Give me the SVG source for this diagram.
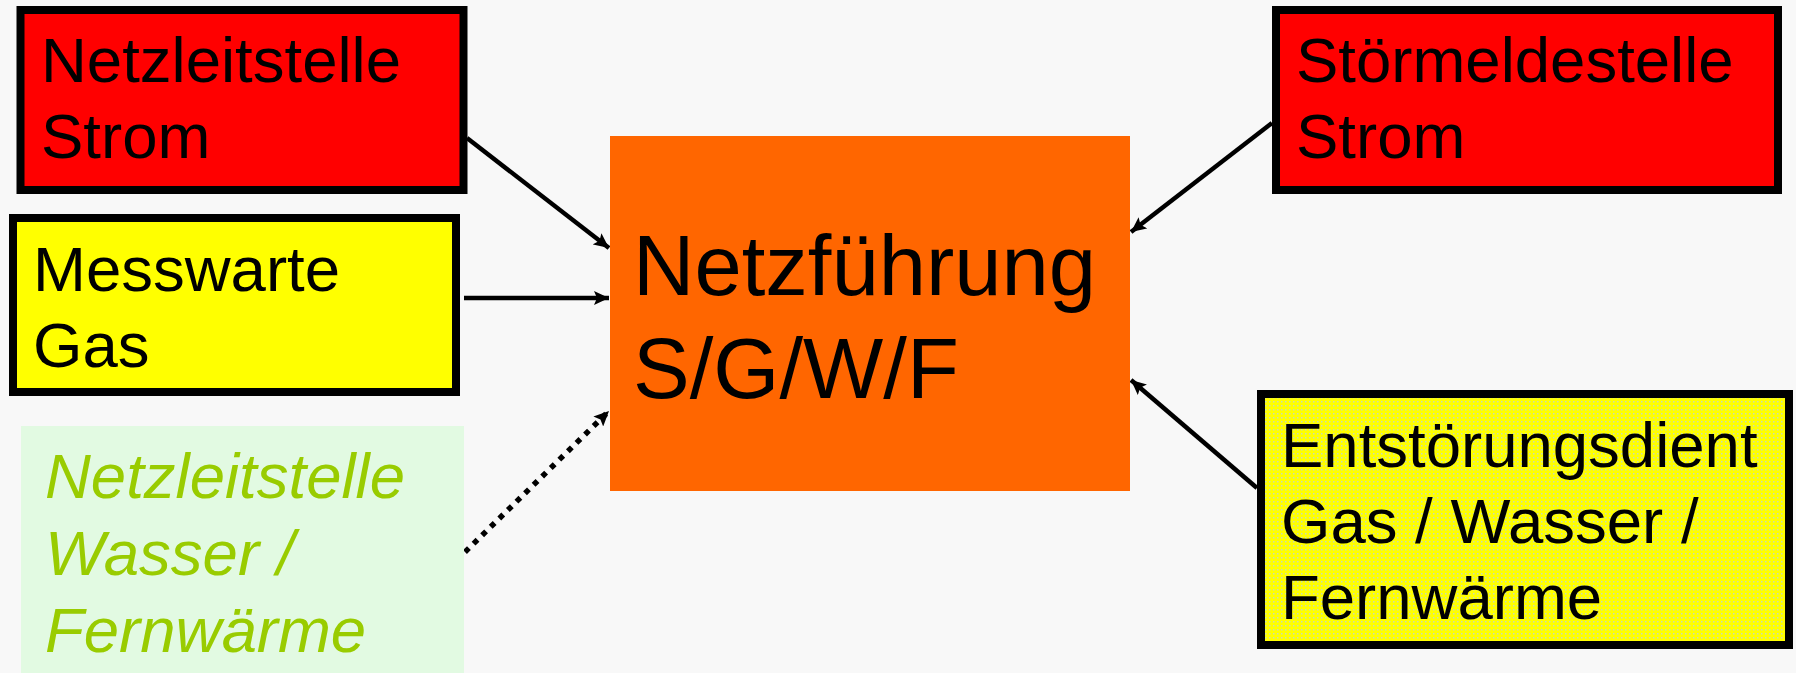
<svg xmlns="http://www.w3.org/2000/svg" width="1796" height="673" viewBox="0 0 1796 673">
  <style>
    .lbl { font-family: "Liberation Sans", Arial, sans-serif; font-size: 63.5px; fill: #000000; }
    .big { font-family: "Liberation Sans", Arial, sans-serif; font-size: 85px; fill: #000000; }
    .ital { font-family: "Liberation Sans", Arial, sans-serif; font-size: 63.5px; font-style: italic; fill: #99cc00; }
    .box { stroke: #000000; stroke-width: 8; }
    .conn { stroke: #000000; stroke-width: 4.5; fill: none; }
    .dot { stroke: #000000; stroke-width: 5.5; fill: none; stroke-dasharray: 5.5 6.5; }
  </style>
  <defs>
    <marker id="arrow" markerUnits="userSpaceOnUse" markerWidth="16" markerHeight="14" refX="15" refY="7" orient="auto">
      <path d="M0,0 L15,7 L0,14 L3,7 z" fill="#000000"/>
    </marker>
    <pattern id="dots" patternUnits="userSpaceOnUse" width="4" height="4">
      <rect width="4" height="4" fill="#ffff00"/>
      <rect x="1" y="1" width="1.5" height="1.5" fill="#c8dcb4"/>
    </pattern>
  </defs>
  <rect x="0" y="0" width="1796" height="673" fill="#f8f8f8"/>

  <g id="connectors">
    <line class="conn" x1="467" y1="138" x2="609" y2="248" marker-end="url(#arrow)"/>
    <line class="conn" x1="464" y1="298" x2="609" y2="298" marker-end="url(#arrow)"/>
    <line class="dot" x1="465" y1="552" x2="609" y2="411" marker-end="url(#arrow)"/>
    <line class="conn" x1="1272" y1="123" x2="1131" y2="232" marker-end="url(#arrow)"/>
    <line class="conn" x1="1257" y1="488" x2="1131" y2="380" marker-end="url(#arrow)"/>
  </g>

  <g id="netzfuehrung">
    <rect x="610" y="136" width="520" height="355" fill="#ff6600"/>
    <text class="big" x="633" y="295">Netzführung</text>
    <text class="big" x="633" y="398">S/G/W/F</text>
  </g>

  <g id="netzleitstelle-strom">
    <rect class="box" x="20.5" y="10" width="443" height="180" fill="#ff0000"/>
    <text class="lbl" x="41" y="82">Netzleitstelle</text>
    <text class="lbl" x="41" y="158">Strom</text>
  </g>

  <g id="messwarte-gas">
    <rect class="box" x="13" y="218" width="443" height="174" fill="#ffff00"/>
    <text class="lbl" x="33" y="291">Messwarte</text>
    <text class="lbl" x="33" y="367">Gas</text>
  </g>

  <g id="netzleitstelle-wasser">
    <rect x="21" y="426" width="443" height="247" fill="#e2fae2"/>
    <text class="ital" x="45" y="498">Netzleitstelle</text>
    <text class="ital" x="45" y="575">Wasser /</text>
    <text class="ital" x="45" y="652">Fernwärme</text>
  </g>

  <g id="stoermeldestelle-strom">
    <rect class="box" x="1276" y="10" width="502" height="180" fill="#ff0000"/>
    <text class="lbl" x="1296" y="82">Störmeldestelle</text>
    <text class="lbl" x="1296" y="158">Strom</text>
  </g>

  <g id="entstoerungsdienst">
    <rect class="box" x="1261" y="394" width="528" height="251" fill="url(#dots)"/>
    <text class="lbl" x="1281" y="467">Entstörungsdient</text>
    <text class="lbl" x="1281" y="543">Gas / Wasser /</text>
    <text class="lbl" x="1281" y="619">Fernwärme</text>
  </g>
</svg>
